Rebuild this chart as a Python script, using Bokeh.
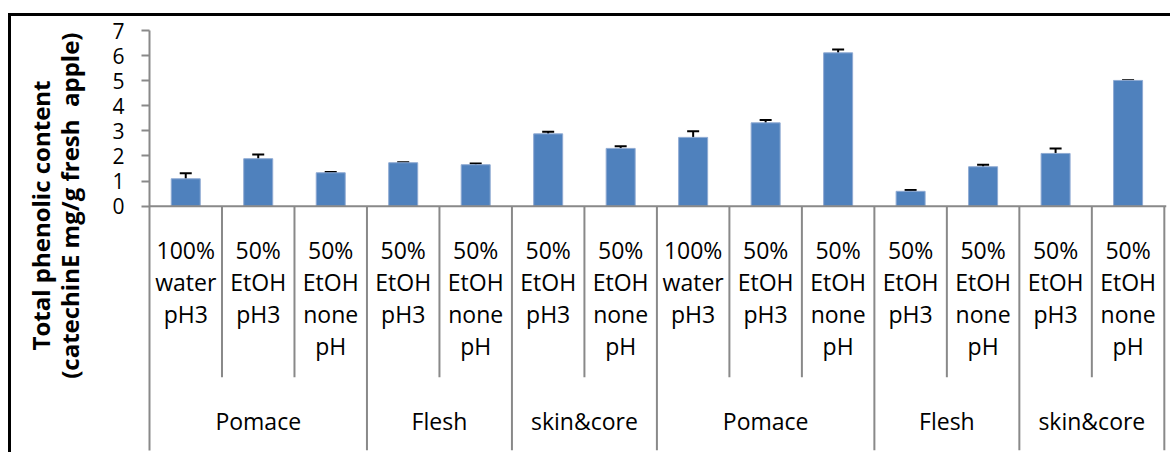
import numpy as np
from bokeh.plotting import figure
from bokeh.models import (Range1d, FixedTicker, ColumnDataSource, Whisker,
                          Title, TeeHead, Span)
from bokeh.core.properties import value
from bokeh.embed import file_html
from bokeh.resources import INLINE

# ---- data -------------------------------------------------------------
groups = ["Pomace", "Flesh", "skin&core", "Pomace", "Flesh", "skin&core"]
group_sizes = [3, 2, 2, 3, 2, 2]
treatments = [
    "100%\nwater\npH3", "50%\nEtOH\npH3", "50%\nEtOH\nnone\npH",
    "50%\nEtOH\npH3", "50%\nEtOH\nnone\npH",
    "50%\nEtOH\npH3", "50%\nEtOH\nnone\npH",
    "100%\nwater\npH3", "50%\nEtOH\npH3", "50%\nEtOH\nnone\npH",
    "50%\nEtOH\npH3", "50%\nEtOH\nnone\npH",
    "50%\nEtOH\npH3", "50%\nEtOH\nnone\npH",
]
phenolic = [1.09, 1.89, 1.33, 1.73, 1.65, 2.88, 2.30,
            2.74, 3.32, 6.11, 0.59, 1.57, 2.10, 5.01]
phenolic_sd = [0.22, 0.17, 0.03, 0.02, 0.05, 0.08, 0.09,
               0.24, 0.11, 0.13, 0.05, 0.08, 0.20, 0.01]
y_ticks = [0, 1, 2, 3, 4, 5, 6, 7]
y_title = ["Total phenolic content", "(catechinE mg/g fresh\u00a0 apple)"]

# ---- layout constants (value units of the y scale) ---------------------
Y_TOP = 7
Y_BOTTOM = -9.74        # the frame continues below zero to hold the category table
TREAT_TOP = -1.13       # top of the treatment label rows
TREAT_BOTTOM = -6.82    # end of the inner separators
GROUP_Y = -8.55         # group label row
GRID = "#898989"
FONT = "Open Sans"

n = len(phenolic)
xs = np.arange(n)
vals = np.array(phenolic)
sds = np.array(phenolic_sd)

src = ColumnDataSource(dict(x=xs, v=vals, upper=vals + sds, lower=vals - sds,
                            label=treatments))

p = figure(width=1162, height=439, output_backend="svg", toolbar_location=None,
           x_range=Range1d(-0.5, 13.53), y_range=Range1d(Y_BOTTOM, Y_TOP),
           min_border_left=138, min_border_right=7, min_border_top=14,
           min_border_bottom=5)
p.styles = {"margin-left": "8px", "margin-top": "13px",
            "border-top": "3px solid black", "border-left": "3px solid black"}

p.outline_line_color = None
p.xgrid.visible = False
p.ygrid.visible = False
p.xaxis.visible = False
p.background_fill_color = "white"
p.border_fill_color = "white"

# y axis
ya = p.yaxis[0]
ya.ticker = FixedTicker(ticks=y_ticks)
ya.axis_line_color = GRID
ya.axis_line_width = 2
ya.major_tick_line_color = GRID
ya.major_tick_line_width = 2
ya.major_tick_out = 8
ya.major_tick_in = 0
ya.minor_tick_line_color = None
ya.major_label_text_font = FONT
ya.major_label_text_font_size = "21px"
ya.major_label_text_color = "black"
ya.major_label_standoff = 17

# y axis title, two rotated lines (inner line added first), anchored at their top ends
for title, standoff, offset in zip(reversed(y_title), [47, -58], [2, 50]):
    p.add_layout(Title(text=title, align="right", offset=offset, standoff=standoff,
                       text_font=FONT, text_font_size="24px",
                       text_font_style="bold", text_color="black"), "left")

# zero line
p.add_layout(Span(location=0, dimension="width", line_color=GRID, line_width=2))

# bars + error bars
p.vbar(x="x", top="v", bottom=0, width=0.4, source=src,
       fill_color="#4F81BD", line_color="#8FAAD3", line_width=1)
p.add_layout(Whisker(base="x", upper="upper", lower="lower", source=src,
                     line_color="black", line_width=2,
                     upper_head=TeeHead(size=12, line_width=2, line_color="black"),
                     lower_head=TeeHead(size=12, line_width=2, line_color="black")))

# category table: separators
edges = np.concatenate([[0], np.cumsum(group_sizes)]) - 0.5
inner = [k + 0.5 for k in range(n - 1) if (k + 0.5) not in edges]
p.segment(x0=inner, x1=inner, y0=[0] * len(inner), y1=[TREAT_BOTTOM] * len(inner),
          line_color=GRID, line_width=2)
outer = list(edges[1:])
p.segment(x0=outer, x1=outer, y0=[0] * len(outer), y1=[Y_BOTTOM] * len(outer),
          line_color=GRID, line_width=2)

# category table: labels
p.text(x="x", y=TREAT_TOP, text="label", source=src,
       text_font=value(FONT), text_font_size=value("23px"), text_color="black",
       text_align="center", text_baseline="top", text_line_height=1.0)
group_centers = edges[:-1] + np.array(group_sizes) / 2.0
p.text(x=list(group_centers), y=[GROUP_Y] * len(groups), text=groups,
       text_font=value(FONT), text_font_size=value("23px"), text_color="black",
       text_align="center", text_baseline="middle")

open("out.html", "w").write(file_html(p, INLINE))
